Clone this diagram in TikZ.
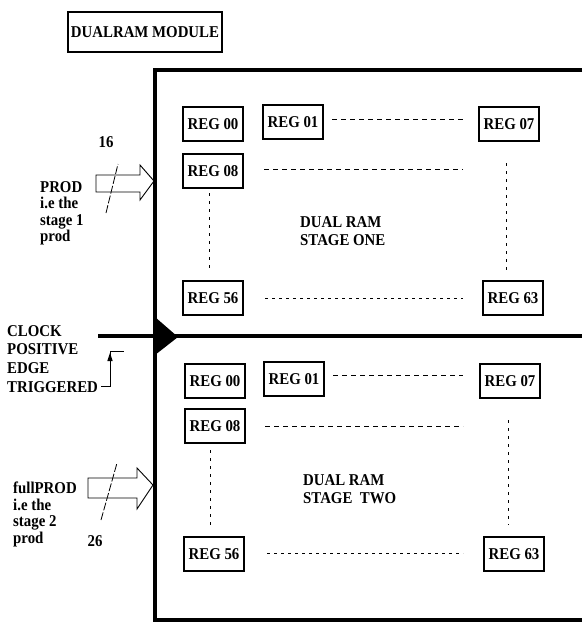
\documentclass[tikz,border=0pt]{standalone}
\usepackage{fontspec}
\setmainfont[FakeStretch=0.9]{Liberation Serif}
\usetikzlibrary{arrows.meta}
\begin{document}
\begin{tikzpicture}[x=1pt,y=-1pt,
  txt/.style={font=\bfseries\fontsize{16.5}{16.5}\selectfont, inner sep=0pt},
  reg/.style={draw, line width=1.4pt, minimum width=60pt, minimum height=34pt, inner sep=0pt, font=\bfseries\fontsize{16.5}{16.5}\selectfont},
  frame/.style={line width=4.5pt},
  dsh/.style={line width=0.9pt, dash pattern=on 5pt off 4pt},
  dot/.style={line width=0.9pt, dash pattern=on 3pt off 4pt},
  vdot/.style={line width=0.9pt, dash pattern=on 3pt off 5pt},
  bus/.style={line width=0.9pt},
  slash/.style={line width=0.8pt, dash pattern=on 8pt off 2pt}
]
\useasboundingbox (0,0) rectangle (582,622);
\fill[white] (0,0) rectangle (582,622);

% title
\node[draw, line width=1.3pt, minimum width=154pt, minimum height=40pt, txt, inner sep=0pt] (title) at (145,32) {DUALRAM MODULE};

% frame
\coordinate (ftr) at (582,70);
\coordinate (ftl) at (155,70);
\coordinate (fbl) at (155,620);
\coordinate (fbr) at (582,620);
\draw[frame] (ftr) -- (ftl) -- (fbl) -- (fbr);

% clock line and triangle
\coordinate (clkL) at (98,336);
\coordinate (clkR) at (582,336);
\draw[line width=4pt] (clkL) -- (clkR);
\fill (155,317) -- (178,337) -- (155,355) -- cycle;

% stage one registers
\node[reg] (a00) at (213,124) {REG 00};
\node[reg] (a01) at (293,122) {REG 01};
\node[reg] (a07) at (509,124) {REG 07};
\node[reg] (a08) at (213,171) {REG 08};
\node[reg] (a56) at (213,298) {REG 56};
\node[reg] (a63) at (513,298) {REG 63};
\node[txt, anchor=north west, align=left, font=\bfseries\fontsize{16.5}{18.5}\selectfont] (s1) at (300,216) {DUAL RAM\\STAGE ONE};

\coordinate (a1s) at (332,119); \coordinate (a1e) at (463,119);
\coordinate (a8s) at (264,169); \coordinate (a8e) at (463,169);
\coordinate (avl1) at (209,193); \coordinate (avl2) at (209,269);
\coordinate (avr1) at (506,163); \coordinate (avr2) at (506,270);
\coordinate (a5s) at (265,298); \coordinate (a5e) at (463,298);
\draw[dsh] (a1s) -- (a1e);
\draw[dsh] (a8s) -- (a8e);
\draw[vdot] (avl1) -- (avl2);
\draw[vdot] (avr1) -- (avr2);
\draw[dot] (a5s) -- (a5e);

% stage two registers
\node[reg] (b00) at (215,381) {REG 00};
\node[reg] (b01) at (294,379) {REG 01};
\node[reg] (b07) at (510,381) {REG 07};
\node[reg] (b08) at (215,426) {REG 08};
\node[reg] (b56) at (214,554) {REG 56};
\node[reg] (b63) at (514,554) {REG 63};
\node[txt, anchor=north west, align=left, font=\bfseries\fontsize{16.5}{18.5}\selectfont] (s2) at (303,474) {DUAL RAM\\STAGE\ \ TWO};

\coordinate (b1s) at (333,375); \coordinate (b1e) at (463,375);
\coordinate (b8s) at (265,426); \coordinate (b8e) at (463,426);
\coordinate (bvl1) at (210,450); \coordinate (bvl2) at (210,525);
\coordinate (bvr1) at (508,420); \coordinate (bvr2) at (508,525);
\coordinate (b5s) at (267,553); \coordinate (b5e) at (463,553);
\draw[dsh] (b1s) -- (b1e);
\draw[dsh] (b8s) -- (b8e);
\draw[vdot] (bvl1) -- (bvl2);
\draw[vdot] (bvr1) -- (bvr2);
\draw[dot] (b5s) -- (b5e);

% PROD input
\draw[bus] (96,175) -- (140,175) -- (140,165) -- (154,181) -- (140,200) -- (140,192) -- (96,192) -- cycle;
\coordinate (p1) at (106,213); \coordinate (p2) at (118,164);
\draw[slash] (p1) -- (p2);
\node[txt] (n16) at (106,142) {16};
\node[txt, anchor=north west, align=left] (prod) at (40,181) {PROD\\i.e the\\stage 1\\prod};

% fullPROD input
\draw[bus] (88,478) -- (137,478) -- (137,468) -- (153,485) -- (137,509) -- (137,498) -- (88,498) -- cycle;
\coordinate (q1) at (101,520); \coordinate (q2) at (117,463);
\draw[slash] (q1) -- (q2);
\node[txt] (n26) at (95,541) {26};
\node[txt, anchor=north west, align=left] (fprod) at (13,482) {fullPROD\\i.e the\\stage 2\\prod};

% clock label
\node[txt, anchor=north west, align=left, font=\bfseries\fontsize{16.5}{18.7}\selectfont] (clk) at (7,325) {CLOCK\\POSITIVE\\EDGE\\TRIGGERED};
\coordinate (st1) at (101,386); \coordinate (st2) at (110,386);
\coordinate (st3) at (110,351); \coordinate (st4) at (124,351);
\draw[line width=1pt] (st1) -- (st2) -- (st3) -- (st4);
\fill (110,353) -- (107.3,361) -- (112.7,361) -- cycle;
\end{tikzpicture}
\end{document}
